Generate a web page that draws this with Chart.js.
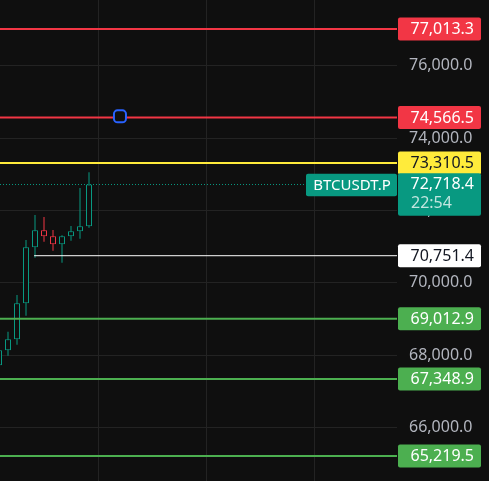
<!DOCTYPE html>
<html>
<head>
<meta charset="utf-8">
<script src="https://cdn.jsdelivr.net/npm/chart.js@4"></script>
<style>
  html, body { margin: 0; padding: 0; background: #0f0f0f; }
  canvas { display: block; }
</style>
</head>
<body>
<canvas id="chart" width="489" height="481"></canvas>
<script>
// candle slots (0 = first vertical grid line)
const candleIdx = [-11, -10, -9, -8, -7, -6, -5, -4, -3, -2, -1];
const opens  = [67724, 68139, 68443, 69437, 70984, 71453, 71287, 71066, 71287, 71425, 71564];
const closes = [68139, 68443, 69437, 70984, 71453, 71287, 71066, 71287, 71425, 71564, 72718.4];
const highs  = [68300, 68652, 69666, 71185, 71876, 71820, 71461, 71315, 71572, 72621, 73055];
const lows   = [67550, 67990, 68293, 69094, 70696, 71138, 70890, 70558, 71166, 71221, 71525];

// horizontal levels
const levelValues = [77013.3, 74566.5, 73310.5, 70751.4, 69012.9, 67348.9, 65219.5];
const levelStart  = [null, null, null, -7.1, null, null, null];

const lastPrice = 72718.4;
const symbol = "BTCUSDT.P";
const countdown = "22:54";
const alertMarker = [{ x: 2.44, y: 74600 }];

const yTicks = [66000, 68000, 70000, 72000, 74000, 76000, 78000];
const xGrid = [0, 12, 24];
const xMin = -10.889, xMax = 33.222;
const yMin = 64529, yMax = 77814;

// styles
const BG = "#0f0f0f";
const UP = "#089981";
const DOWN = "#f23645";
const GRID = "#232323";
const levelColors = ["#f23645", "#f23645", "#ffeb3b", "#ffffff", "#4caf50", "#4caf50", "#4caf50"];
const levelTextColors = ["#ffffff", "#ffffff", "#131722", "#131722", "#ffffff", "#ffffff", "#ffffff"];
const levelWidths = [2, 2, 2, 1, 2, 2, 2];

const candleColors = opens.map((o, k) => closes[k] >= o ? UP : DOWN);

function fmt(v) {
  return Number(v).toLocaleString("en-US", { minimumFractionDigits: 1, maximumFractionDigits: 1 });
}

function box(ctx, x, y, w, h, color) {
  ctx.fillStyle = color;
  ctx.beginPath();
  ctx.roundRect(x, y, w, h, 2);
  ctx.fill();
}

function noPad(s) {
  s.paddingTop = 0;
  s.paddingBottom = 0;
  s.paddingLeft = 0;
  s.paddingRight = 0;
}

const bgPlugin = {
  id: "bg",
  beforeDraw(chart) {
    const ctx = chart.ctx;
    ctx.save();
    ctx.fillStyle = BG;
    ctx.fillRect(0, 0, chart.width, chart.height);
    ctx.restore();
  }
};

// price-scale labels drawn on top of the axis
const labelsPlugin = {
  id: "priceLabels",
  afterDraw(chart) {
    const ctx = chart.ctx;
    const ys = chart.scales.y;
    const left = chart.chartArea.right + 1;
    const w = chart.width - 8 - left;
    const textRight = left + 76;
    ctx.save();
    ctx.font = '16px "Noto Sans"';
    ctx.textBaseline = "middle";

    levelValues.forEach((v, k) => {
      const py = ys.getPixelForValue(v);
      box(ctx, left, py - 11.5, w, 23, levelColors[k]);
      ctx.fillStyle = levelTextColors[k];
      ctx.textAlign = "right";
      ctx.fillText(fmt(v), textRight, py + 0.5);
    });

    // last price + countdown
    const pp = ys.getPixelForValue(lastPrice);
    box(ctx, left, pp - 11.2, w, 42.4, UP);
    ctx.fillStyle = "#ffffff";
    ctx.textAlign = "right";
    ctx.fillText(fmt(lastPrice), textRight, pp - 0.5);
    ctx.fillStyle = "rgba(255,255,255,0.75)";
    ctx.textAlign = "left";
    ctx.fillText(countdown, textRight - 63, pp + 19);

    // symbol tag
    box(ctx, left - 92, pp - 10.8, 91, 22.6, UP);
    ctx.fillStyle = "#ffffff";
    ctx.textAlign = "center";
    ctx.font = '15px "Noto Sans"';
    ctx.fillText(symbol, left - 46, pp + 0.8);
    ctx.restore();
  }
};

const datasets = [];

// candles: wicks behind, hollow bodies on top
datasets.push({
  type: "bar",
  data: candleIdx.map((x, k) => ({ x: x, y: [lows[k], highs[k]] })),
  backgroundColor: candleColors,
  barThickness: 1,
  grouped: false,
  inflateAmount: 0,
  order: 3
});
datasets.push({
  type: "bar",
  data: candleIdx.map((x, k) => ({ x: x, y: [opens[k], closes[k]] })),
  backgroundColor: BG,
  borderColor: candleColors,
  borderWidth: 1,
  borderSkipped: false,
  barThickness: 6,
  grouped: false,
  inflateAmount: 0,
  order: 2
});

levelValues.forEach((v, k) => {
  datasets.push({
    type: "line",
    data: [{ x: levelStart[k] ?? xMin, y: v }, { x: xMax, y: v }],
    borderColor: levelColors[k],
    borderWidth: levelWidths[k],
    pointRadius: 0,
    order: 1
  });
});

datasets.push({
  type: "line",
  data: [{ x: xMin, y: lastPrice }, { x: xMax, y: lastPrice }],
  borderColor: UP,
  borderWidth: 1,
  borderDash: [1, 2],
  pointRadius: 0,
  order: 1
});

datasets.push({
  type: "line",
  data: alertMarker,
  showLine: false,
  pointStyle: "rectRounded",
  pointRadius: 7,
  pointBorderWidth: 2,
  pointBorderColor: "#2962ff",
  pointBackgroundColor: BG,
  order: 0
});

new Chart(document.getElementById("chart"), {
  type: "bar",
  data: { datasets: datasets },
  options: {
    responsive: false,
    animation: false,
    devicePixelRatio: 1,
    layout: { padding: 0, autoPadding: false },
    plugins: { legend: { display: false }, tooltip: { enabled: false } },
    scales: {
      x: {
        type: "linear",
        min: xMin,
        max: xMax,
        offset: false,
        afterBuildTicks: s => { s.ticks = xGrid.map(v => ({ value: v })); },
        afterFit: noPad,
        ticks: { display: false },
        grid: { color: GRID, drawTicks: false, offset: false },
        border: { display: false }
      },
      y: {
        position: "right",
        min: yMin,
        max: yMax,
        afterBuildTicks: s => { s.ticks = yTicks.map(v => ({ value: v })); },
        afterFit: s => { s.width = 92; noPad(s); },
        ticks: {
          color: "#b2b5be",
          padding: 12,
          font: { family: "Noto Sans", size: 16 },
          callback: v => fmt(v)
        },
        grid: { color: GRID, drawTicks: false },
        border: { display: false }
      }
    }
  },
  plugins: [bgPlugin, labelsPlugin]
});
</script>
</body>
</html>
